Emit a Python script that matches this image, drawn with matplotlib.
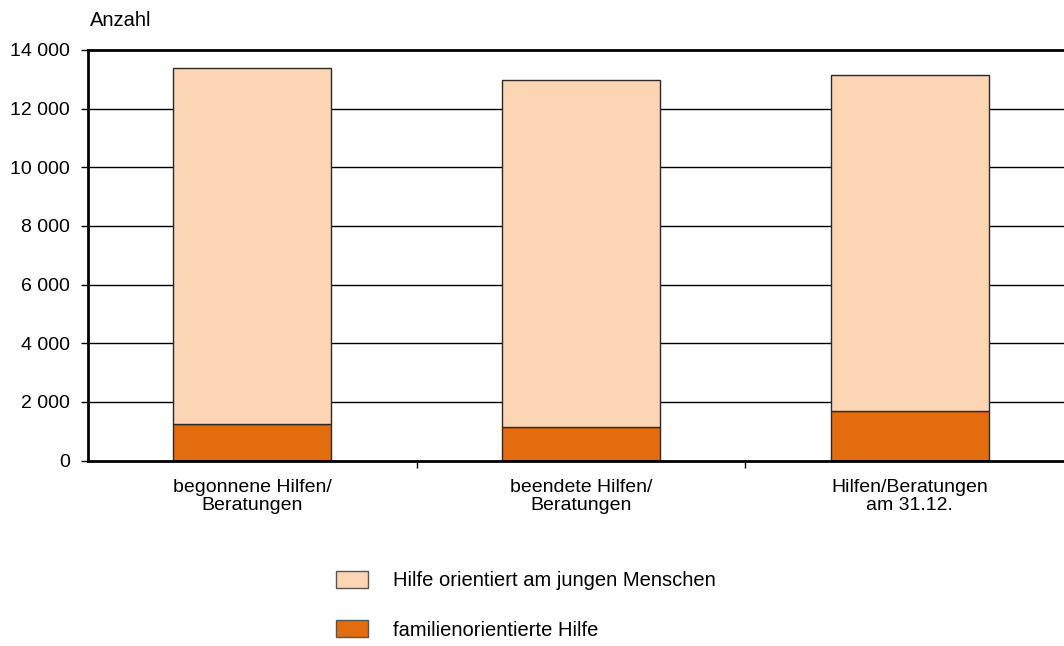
import matplotlib
matplotlib.use("Agg")
import matplotlib.pyplot as plt
from matplotlib.patches import Patch
from matplotlib.ticker import FuncFormatter, FixedLocator

plt.rcParams['font.family'] = ['Liberation Sans', 'DejaVu Sans']

categories = ["begonnene Hilfen/\nBeratungen", "beendete Hilfen/\nBeratungen", "Hilfen/Beratungen\nam 31.12."]
familienorientiert = [1235, 1130, 1700]
junge_menschen = [12140, 11835, 11440]
series_labels = ["Hilfe orientiert am jungen Menschen", "familienorientierte Hilfe"]
y_ticks = [0, 2000, 4000, 6000, 8000, 10000, 12000, 14000]

c_light = "#FCD5B5"
c_dark = "#E36C0F"
fs = 14
fs_leg = 14.5

W, H = 1064, 646
fig = plt.figure(figsize=(W / 100, H / 100), dpi=100)
ax_left, ax_right, ax_top, ax_bottom = 88, 1064, 50, 460.5
ax = fig.add_axes([ax_left / W, 1 - ax_bottom / H, (ax_right - ax_left) / W, (ax_bottom - ax_top) / H])

band = 328.7
x = list(range(len(categories)))
ax.set_xlim(-0.5, -0.5 + (ax_right - ax_left) / band)
ax.set_ylim(0, 14000)

ax.bar(x, familienorientiert, width=0.48, color=c_dark, edgecolor="#2a2a2a", linewidth=1.0, zorder=3)
ax.bar(x, junge_menschen, width=0.48, bottom=familienorientiert, color=c_light,
       edgecolor="#2a2a2a", linewidth=1.0, zorder=3)

# horizontal grid lines
for v in y_ticks[1:-1]:
    ax.axhline(v, color="black", linewidth=1.0, zorder=1)

ax.spines["right"].set_visible(False)
ax.spines["top"].set_linewidth(2.0)
ax.spines["left"].set_linewidth(2.0)
ax.spines["bottom"].set_linewidth(2.0)
ax.spines["bottom"].set_zorder(4)

ax.yaxis.set_major_locator(FixedLocator(y_ticks))
ax.yaxis.set_major_formatter(FuncFormatter(lambda v, p: f"{int(v):,}".replace(",", " ")))
ax.tick_params(axis="y", direction="out", length=5, width=1.0, pad=8, labelsize=fs, colors="black")

ax.set_xticks(x)
ax.set_xticklabels(categories, fontsize=fs, linespacing=1.1)
ax.tick_params(axis="x", which="major", length=0, pad=13)
ax.set_xticks([0.5, 1.5], minor=True)
ax.tick_params(axis="x", which="minor", direction="out", length=5, width=1.0)

fig.text(90 / W, 1 - 20 / H, "Anzahl", fontsize=fs_leg, ha="left", va="center")

handles = [Patch(facecolor=c_light, edgecolor="#555555", linewidth=1.0),
           Patch(facecolor=c_dark, edgecolor="#555555", linewidth=1.0)]
fig.legend(handles, series_labels, loc="upper left", bbox_to_anchor=(336 / W, 1 - 571 / H),
           frameon=False, fontsize=fs_leg, handlelength=1.59, handleheight=0.9,
           handletextpad=1.24, labelspacing=1.49, borderaxespad=0, borderpad=0)

fig.savefig("out.png", dpi=100)
